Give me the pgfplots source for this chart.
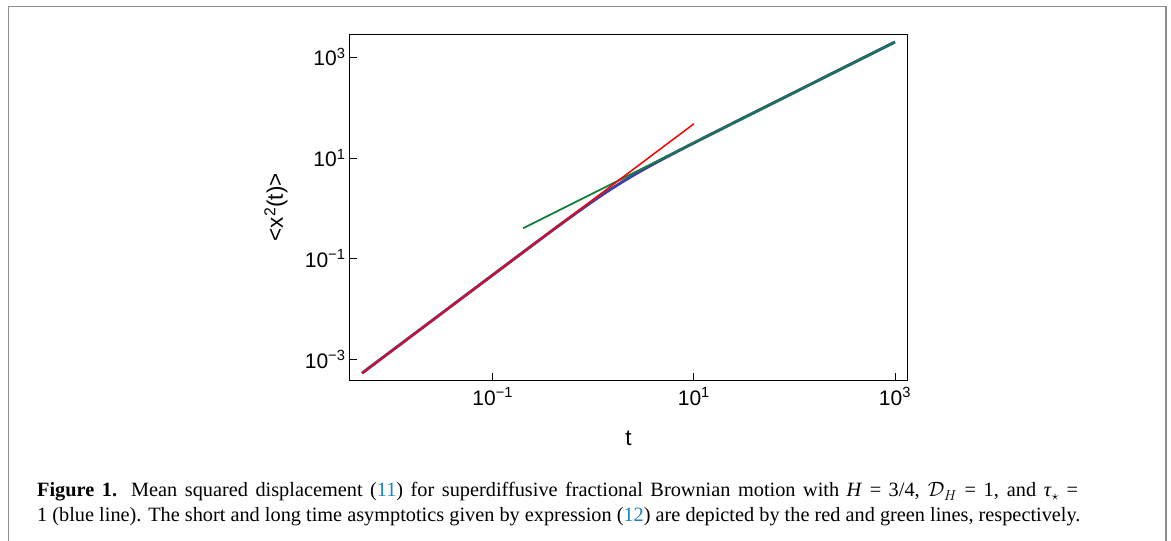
\documentclass[border=0pt]{standalone}
\usepackage{fontspec}
\setmainfont{Liberation Serif}
\newfontfamily\axisfont{Liberation Sans}
\usepackage{pgfplots}
\pgfplotsset{compat=1.18}
\definecolor{msdblue}{RGB}{64,64,165}
\definecolor{asgreen}{RGB}{16,128,64}
\definecolor{capblue}{RGB}{30,130,195}
\pgfplotstableread{
t msd
0.005 5.32e-4
0.01 1.505e-3
0.03 7.82e-3
0.1 0.04755
0.2 0.1342
0.3 0.2455
0.4 0.3760
0.5 0.5219
0.7 0.8499
1 1.404
1.2 1.7993
1.5 2.414
2 3.463
2.5 4.519
3 5.570
4 7.651
5 9.712
7 13.79
10 19.85
15 29.90
20 39.92
50 99.97
100 200
300 600
1000 2000
}\msdtable
\begin{document}
\begin{tikzpicture}[x=1pt,y=1pt]
\useasboundingbox (0pt,0pt) rectangle (1171pt,541pt);
\draw[black!45, line width=1.6pt] (8.5pt,-5pt) -- (8.5pt,534.3pt) -- (1166pt,534.3pt) -- (1166pt,-5pt);
\begin{axis}[
  at={(350pt,161pt)}, anchor=south west, scale only axis,
  width=557pt, height=345.5pt,
  xmode=log, ymode=log,
  xmin=0.0038, xmax=1318, ymin=3.9e-4, ymax=2818,
  xtick={0.1,10,1000}, ytick={0.001,0.1,10,1000},
  minor xtick={}, minor ytick={},
  xticklabels={10\textsuperscript{−1},10\textsuperscript{1},10\textsuperscript{3}},
  yticklabels={10\textsuperscript{−3},10\textsuperscript{−1},10\textsuperscript{1},10\textsuperscript{3}},
  xtick pos=left, ytick pos=left,
  tick align=inside,
  major tick length=7pt,
  tick style={black, line width=0.8pt},
  axis line style={black, line width=1pt},
  ticklabel style={font=\axisfont\fontsize{21}{23}\selectfont},
  xticklabel style={yshift=-4pt},
  yticklabel style={xshift=-1pt},
  every axis x label/.style={at={(axis description cs:0.5,0)}, anchor=center, yshift=-58pt},
  every axis y label/.style={at={(axis description cs:0,0.5)}, rotate=90, anchor=center, yshift=74pt},
  label style={font=\axisfont\fontsize{22.5}{24}\selectfont},
  xlabel={t}, ylabel={<x\textsuperscript{2}(t)>},
]
\addplot[msdblue, line width=3pt, no marks] table[x=t,y=msd]{\msdtable};
\addplot[asgreen, line width=1.8pt, no marks] coordinates {(0.2,0.4) (1000,2000)};
\addplot[red, line width=1.5pt, no marks] coordinates {(0.005,5.32e-4) (10,47.59)};
\end{axis}
\node[anchor=base west, inner sep=0] at (37pt,44pt) {\fontsize{20.3}{25}\selectfont\makebox[1041pt][s]{\textbf{Figure 1.} Mean squared displacement (\textcolor{capblue}{11}) for superdiffusive fractional Brownian motion with \textit{H}~=~3/4, $\mathcal{D}_H$~=~1, and \textit{τ}$_\star$~=}};
\node[anchor=base west, inner sep=0] at (37pt,19pt) {\fontsize{20.3}{25}\selectfont 1 (blue line). The short and long time asymptotics given by expression (\textcolor{capblue}{12}) are depicted by the red and green lines, respectively.};
\end{tikzpicture}
\end{document}
